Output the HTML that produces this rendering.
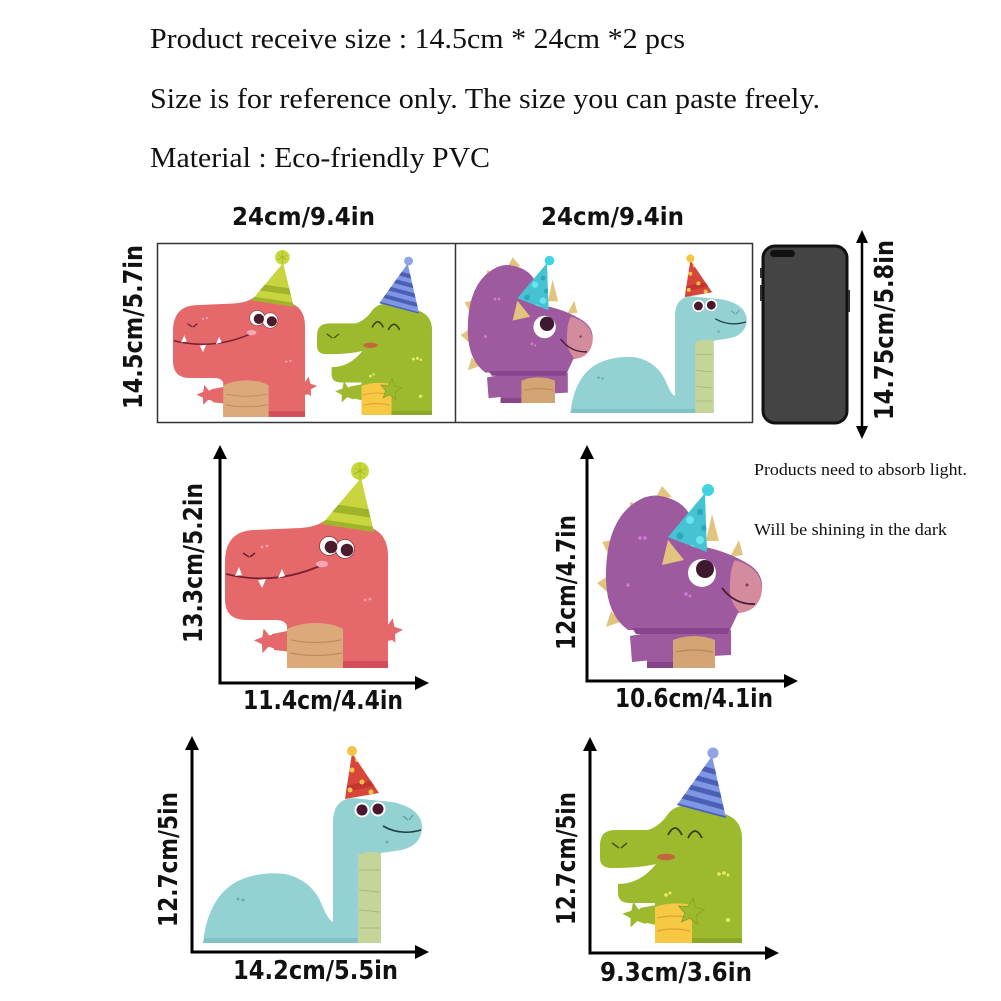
<!DOCTYPE html>
<html><head><meta charset="utf-8"><style>html,body{margin:0;padding:0;background:#fff}svg{display:block}</style></head>
<body>
<svg width="1001" height="1001" viewBox="0 0 1001 1001" xmlns="http://www.w3.org/2000/svg">
<defs>
<path id="star" d="M0 -13 L3.5 -4.9 L12.4 -4 L5.7 1.9 L7.6 10.5 L0 6 L-7.6 10.5 L-5.7 1.9 L-12.4 -4 L-3.5 -4.9 Z"/>
<clipPath id="cRedHat"><path d="M322 524 L374 532 L361 478 Z"/></clipPath>
<clipPath id="cGreenHat"><path d="M677 805 L726 818 L712 756 Z"/></clipPath>
<clipPath id="cPurpleHat"><path d="M668 537 L707 552 L705 493 Z"/></clipPath>
<clipPath id="cBlueHat"><path d="M345 799 L379 793 L352 753 Z"/></clipPath>

<g id="red">
 <use href="#star" transform="translate(267,641) rotate(-15)" fill="#e5686b"/>
 <path d="M272 634 L292 630 L292 652 L274 650 Z" fill="#e5686b"/>
 <use href="#star" transform="translate(390,631) rotate(12)" fill="#e5686b"/>
 <path d="M375 626 L392 624 L392 640 L375 644 Z" fill="#e5686b"/>
 <path d="M225 562 Q225 531 254 530 L300 528 Q316 527 324 521 L364 526 Q388 530 388 556 L388 668 L287 668 L287 626 Q285 620 276 620 L246 620 Q225 620 225 599 Z" fill="#e5686b"/>
 <path d="M343 661 L388 661 L388 668 L343 668 Z" fill="#d24e5a"/>
 <path d="M287 668 L287 629 Q300 623 315 623 Q333 623 343 629 L343 668 Z" fill="#dcaa7a"/>
 <path d="M291 640 Q315 645 341 640 M290 653 Q315 658 342 653" stroke="#c08a5c" stroke-width="1.2" fill="none"/>
 <path d="M226 574 Q275 586 322 565" stroke="#7a2232" stroke-width="1.8" fill="none"/>
 <path d="M235 576 L242 575 L239 567 Z M258 580 L266 579 L262 588 Z M278 578 L285 576 L282 569 Z" fill="#fff"/>
 <path d="M243 553 L249 557 M255 553 L250 557" stroke="#6a2030" stroke-width="1.5"/>
 <ellipse cx="322" cy="564" rx="6" ry="3.3" fill="#f6a6b4"/>
 <circle cx="262" cy="547" r="1.5" fill="#f29aa5"/><circle cx="267" cy="546" r="1.5" fill="#f29aa5"/>
 <circle cx="365" cy="600" r="1.5" fill="#f29aa5"/><circle cx="370" cy="599" r="1.5" fill="#f29aa5"/>
 <circle cx="329" cy="546" r="9.5" fill="#fff" stroke="#8a3a40" stroke-width="0.8"/>
 <circle cx="345" cy="549" r="9.5" fill="#fff" stroke="#8a3a40" stroke-width="0.8"/>
 <circle cx="331" cy="547" r="6.3" fill="#4a1c2c"/>
 <circle cx="347" cy="550" r="6.3" fill="#4a1c2c"/>
 <g clip-path="url(#cRedHat)">
  <rect x="300" y="470" width="90" height="70" fill="#c9d53e"/>
  <path d="M300 520 L400 535 M300 503 L400 518" stroke="#9fb42a" stroke-width="8"/>
 </g>
 <circle cx="360" cy="471" r="9" fill="#c6d83a"/>
 <path d="M355 468 L365 474 M360 463 L360 479 M354 474 L366 468" stroke="#a6b82a" stroke-width="1"/>
</g>

<g id="green">
 <use href="#star" transform="translate(636,915) rotate(-12) scale(1.05)" fill="#9dba2e"/>
 <path d="M640 908 L656 905 L656 925 L642 922 Z" fill="#9dba2e"/>
 <path d="M600 845 Q600 830 615 830 L648 830 Q660 826 668 814 Q676 804 690 806 L725 814 Q742 820 742 838 L742 943 L655 943 L655 903 L630 903 Q618 903 618 893 L618 884 Q640 884 656 864 Q640 868 612 868 Q600 868 600 858 Z" fill="#9dba2e"/>
 <path d="M692 938 L742 938 L742 943 L692 943 Z" fill="#8aa626"/>
 <path d="M655 943 L655 907 Q672 901 692 905 L692 943 Z" fill="#f6c844"/>
 <path d="M657 918 Q673 914 690 918 M657 931 Q673 927 690 931" stroke="#e0a030" stroke-width="1.2" fill="none"/>
 <use href="#star" transform="translate(691,912) rotate(8) scale(1.05)" fill="#9dba2e" stroke="#86a022" stroke-width="0.8"/>
 <path d="M668 835 Q675 821 682 835 M688 838 Q695 824 702 838" stroke="#3b3b10" stroke-width="1.8" fill="none"/>
 <path d="M612 843 L619 848 M627 843 L621 848" stroke="#4a5010" stroke-width="1.5"/>
 <ellipse cx="666" cy="857" rx="9" ry="3.3" fill="#c4673c"/>
 <circle cx="719" cy="874" r="1.8" fill="#e6ee60"/><circle cx="724" cy="873" r="1.8" fill="#e6ee60"/><circle cx="728" cy="875" r="1.5" fill="#e6ee60"/>
 <circle cx="666" cy="895" r="1.8" fill="#e6ee60"/><circle cx="670" cy="893" r="1.5" fill="#e6ee60"/>
 <circle cx="728" cy="920" r="2" fill="#e6ee60"/>
 <g clip-path="url(#cGreenHat)">
  <rect x="660" y="745" width="80" height="80" fill="#7f96e2"/>
  <path d="M660 801 L745 824 M660 790 L745 813 M660 779 L745 802 M660 768 L745 791 M660 757 L745 780" stroke="#4b5fb6" stroke-width="5"/>
 </g>
 <circle cx="713" cy="753" r="5.5" fill="#8fa3e6"/>
</g>

<g id="purple">
 <path d="M655 499 L662 486 L672 497 Z" fill="#e3c47f"/>
 <path d="M630 514 L630 502 L643 506 Z" fill="#e3c47f"/>
 <path d="M609 555 L602 542 L616 539 Z" fill="#e3c47f"/>
 <path d="M607 592 L597 583 L608 576 Z" fill="#e3c47f"/>
 <path d="M611 611 L606 627 L620 622 Z" fill="#e3c47f"/>
 <path d="M706 541 L712 514 L719 541 Z" fill="#e3c47f"/>
 <path d="M730 557 L739 540 L743 555 Z" fill="#e3c47f"/>
 <path d="M630 636 L652 632 L652 660 L632 662 Z" fill="#9d5a9e"/>
 <path d="M712 632 L731 630 L731 655 L712 656 Z" fill="#9d5a9e"/>
 <path d="M647 668 L647 625 L715 625 L715 668 Z" fill="#9d5a9e"/>
 <path d="M647 662 L673 662 L673 668 L647 668 Z" fill="#86438a"/>
 <path d="M628 630 Q607 615 606 580 Q605 530 628 508 Q645 493 660 496 Q685 500 692 520 L692 545 Q720 548 745 562 Q764 572 762 590 Q760 610 738 613 L730 630 Z" fill="#9d5a9e"/>
 <path d="M632 628 L730 628 L728 634 L636 634 Z" fill="#88458d"/>
 <path d="M673 668 L673 640 Q694 632 715 640 L715 668 Z" fill="#d4a574"/>
 <path d="M676 652 Q694 648 713 652" stroke="#b8875a" stroke-width="1.2" fill="none"/>
 <path d="M735 560 Q762 568 762 590 Q760 610 740 613 Q728 600 730 585 Q730 568 735 560 Z" fill="#d48b9e"/>
 <circle cx="747" cy="585" r="1.5" fill="#8a3a55"/>
 <path d="M662 565 L668 540 L684 560 Z" fill="#e3c47f"/>
 <circle cx="702" cy="573" r="14" fill="#fff"/>
 <circle cx="705" cy="569" r="9" fill="#3d1a2e"/>
 <path d="M722 588 Q735 605 755 604" stroke="#4a1a35" stroke-width="1.8" fill="none"/>
 <circle cx="640" cy="538" r="1.8" fill="#d07ad8"/><circle cx="645" cy="538" r="1.8" fill="#d07ad8"/>
 <circle cx="628" cy="585" r="1.8" fill="#d07ad8"/><circle cx="686" cy="594" r="1.8" fill="#d07ad8"/><circle cx="690" cy="596" r="1.5" fill="#d07ad8"/>
 <g clip-path="url(#cPurpleHat)">
  <rect x="660" y="488" width="55" height="70" fill="#45c3d3"/>
  <circle cx="690" cy="520" r="4" fill="#6ae4ee"/><circle cx="700" cy="540" r="4" fill="#6ae4ee"/><circle cx="680" cy="536" r="3.5" fill="#2ea6bb"/>
  <circle cx="700" cy="512" r="3" fill="#2ea6bb"/><circle cx="692" cy="548" r="3" fill="#6ae4ee"/><circle cx="704" cy="528" r="3" fill="#2ea6bb"/>
 </g>
 <circle cx="708" cy="490" r="6" fill="#3fd4e0"/>
</g>

<g id="blue">
 <path d="M203 943 Q208 895 240 880 Q262 871 285 874 Q312 880 322 905 Q328 920 333 922 L333 822 Q333 800 352 798 L392 802 Q422 808 422 828 Q421 848 395 851 L381 853 L381 943 Z" fill="#93d1d3"/>
 <path d="M205 938 L381 938 L381 943 L203 943 Z" fill="#7fc3c6"/>
 <path d="M358 943 L358 855 Q370 850 381 853 L381 943 Z" fill="#c5d59a"/>
 <path d="M359 870 L380 870 M359 890 L380 892 M359 910 L380 912 M359 928 L380 928" stroke="#a9b878" stroke-width="1.1"/>
 <circle cx="362" cy="810" r="7.5" fill="#fff"/><circle cx="378" cy="809" r="7.5" fill="#fff"/>
 <circle cx="362" cy="810" r="5.5" fill="#4a1530"/><circle cx="378" cy="809" r="5.5" fill="#4a1530"/>
 <path d="M383 826 Q400 836 421 830" stroke="#22404a" stroke-width="1.6" fill="none"/>
 <path d="M403 816 L408 820 M413 815 L409 820" stroke="#5a9ea2" stroke-width="1.3"/>
 <circle cx="238" cy="899" r="1.5" fill="#5fb0b2"/><circle cx="243" cy="900" r="1.5" fill="#5fb0b2"/><circle cx="387" cy="842" r="1.5" fill="#5fb0b2"/>
 <g clip-path="url(#cBlueHat)">
  <rect x="340" y="748" width="45" height="55" fill="#d8463b"/>
  <path d="M340 790 L380 782" stroke="#c23530" stroke-width="6"/>
  <circle cx="352" cy="770" r="2.5" fill="#f4c542"/><circle cx="362" cy="782" r="2.5" fill="#f4c542"/><circle cx="350" cy="790" r="2.5" fill="#f4c542"/><circle cx="371" cy="792" r="2.5" fill="#f4c542"/><circle cx="357" cy="760" r="2" fill="#f4c542"/>
 </g>
 <circle cx="352" cy="751" r="5" fill="#f4c542"/>
</g>
</defs>

<!-- Top text -->
<g font-family="'Liberation Serif', serif" fill="#111" font-size="29">
 <text x="150" y="48" textLength="535" lengthAdjust="spacingAndGlyphs">Product receive size : 14.5cm * 24cm *2 pcs</text>
 <text x="150" y="108" textLength="670" lengthAdjust="spacingAndGlyphs">Size is for reference only. The size you can paste freely.</text>
 <text x="150" y="167" textLength="340" lengthAdjust="spacingAndGlyphs">Material : Eco-friendly PVC</text>
</g>

<!-- Top box -->
<rect x="157.5" y="243.5" width="595" height="179" fill="none" stroke="#333" stroke-width="1.5"/>
<line x1="455.5" y1="243.5" x2="455.5" y2="422.5" stroke="#333" stroke-width="1.5"/>
<use href="#red" transform="translate(-9.25,-124.2) scale(0.81)"/>
<use href="#green" transform="translate(-169,-348.9) scale(0.81)"/>
<use href="#purple" transform="translate(-17,-131.4) scale(0.8)"/>
<use href="#blue" transform="translate(407,-346.1) scale(0.805)"/>

<!-- Phone -->
<rect x="763" y="246" width="84" height="177" rx="12" fill="#444" stroke="#111" stroke-width="3"/>
<rect x="770" y="250" width="25" height="7" rx="3.5" fill="#111"/>
<rect x="760" y="268" width="2" height="10" fill="#333"/>
<rect x="760" y="285" width="2" height="16" fill="#333"/>
<rect x="848" y="290" width="2" height="22" fill="#333"/>

<!-- Right arrow -->
<line x1="862" y1="240" x2="862" y2="429" stroke="#000" stroke-width="2.5"/>
<path d="M856 243 L868 243 L862 230 Z M856 426 L868 426 L862 439 Z" fill="#000"/>

<!-- Middle/bottom dinos -->
<use href="#red"/>
<use href="#purple"/>
<use href="#blue"/>
<use href="#green"/>

<!-- Axes -->
<g stroke="#000" stroke-width="3" fill="none">
 <path d="M220 455 L220 683 L418 683"/>
 <path d="M587 455 L587 681 L787 681"/>
 <path d="M192 746 L192 952 L418 952"/>
 <path d="M590 747 L590 953 L768 953"/>
</g>
<g fill="#000">
 <path d="M213 459 L227 459 L220 445 Z M415 676 L415 690 L429 683 Z"/>
 <path d="M580 459 L594 459 L587 445 Z M784 674 L784 688 L798 681 Z"/>
 <path d="M185 750 L199 750 L192 736 Z M415 945 L415 959 L429 952 Z"/>
 <path d="M583 751 L597 751 L590 737 Z M765 946 L765 960 L779 953 Z"/>
</g>

<!-- Dimension labels -->
<g font-family="'DejaVu Sans', 'Liberation Sans', sans-serif" font-weight="bold" fill="#111">
 <text x="232" y="225" font-size="24.5" textLength="143" lengthAdjust="spacingAndGlyphs">24cm/9.4in</text>
 <text x="541" y="225" font-size="24.5" textLength="143" lengthAdjust="spacingAndGlyphs">24cm/9.4in</text>
 <text transform="translate(142,409) rotate(-90)" font-size="26" textLength="164" lengthAdjust="spacingAndGlyphs">14.5cm/5.7in</text>
 <text transform="translate(893,420) rotate(-90)" font-size="26" textLength="180" lengthAdjust="spacingAndGlyphs">14.75cm/5.8in</text>
 <text transform="translate(202,643) rotate(-90)" font-size="26" textLength="160" lengthAdjust="spacingAndGlyphs">13.3cm/5.2in</text>
 <text x="243" y="709" font-size="26" textLength="160" lengthAdjust="spacingAndGlyphs">11.4cm/4.4in</text>
 <text transform="translate(575,650) rotate(-90)" font-size="26" textLength="135" lengthAdjust="spacingAndGlyphs">12cm/4.7in</text>
 <text x="615" y="707" font-size="26" textLength="158" lengthAdjust="spacingAndGlyphs">10.6cm/4.1in</text>
 <text transform="translate(177,927) rotate(-90)" font-size="26" textLength="135" lengthAdjust="spacingAndGlyphs">12.7cm/5in</text>
 <text x="233" y="979" font-size="26" textLength="165" lengthAdjust="spacingAndGlyphs">14.2cm/5.5in</text>
 <text transform="translate(575,925) rotate(-90)" font-size="26" textLength="133" lengthAdjust="spacingAndGlyphs">12.7cm/5in</text>
 <text x="600" y="981" font-size="26" textLength="152" lengthAdjust="spacingAndGlyphs">9.3cm/3.6in</text>
</g>

<!-- Side notes -->
<g font-family="'Liberation Serif', serif" fill="#111" font-size="17">
 <text x="754" y="475" textLength="213" lengthAdjust="spacingAndGlyphs">Products need to absorb light.</text>
 <text x="754" y="535" textLength="193" lengthAdjust="spacingAndGlyphs">Will be shining in the dark</text>
</g>
</svg>
</body></html>
